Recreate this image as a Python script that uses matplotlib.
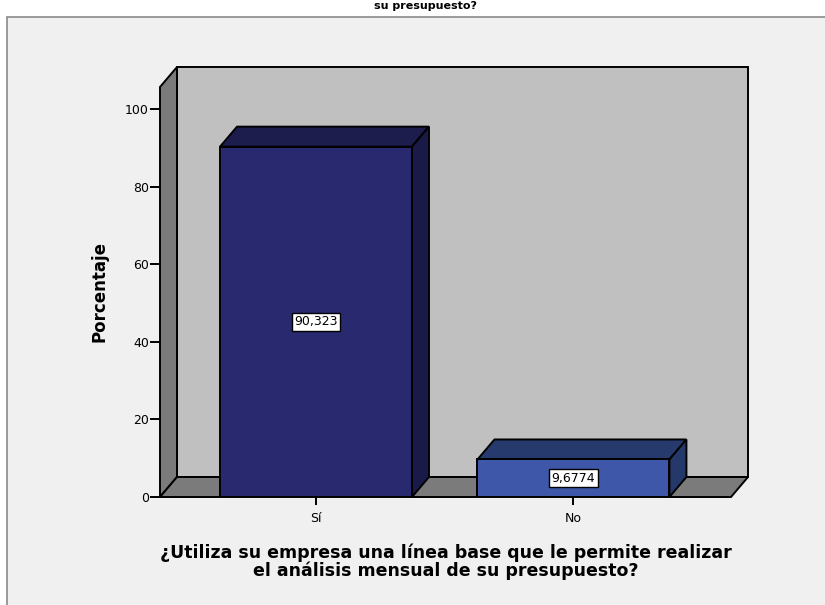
import matplotlib
matplotlib.use("Agg")
import matplotlib.pyplot as plt
from matplotlib.patches import Polygon, Rectangle

# data
categories = ["Sí", "No"]
percentages = [90.323, 9.6774]
value_labels = ["90,323", "9,6774"]
y_ticks = [0, 20, 40, 60, 80, 100]

front_colors = ["#29296f", "#3e57a8"]
top_colors = ["#1c1c4d", "#263a6d"]
side_colors = ["#1a1a48", "#24386a"]

W, H = 825, 605
fig = plt.figure(figsize=(W / 100, H / 100), dpi=100)
fig.patch.set_facecolor("white")

# outer frame
frame = Rectangle((7 / W, -0.01), 1.0, 1 - 17 / H + 0.01,
                  transform=fig.transFigure, facecolor="#f0f0f0",
                  edgecolor="#8a8a8a", linewidth=1.2, zorder=-10)
fig.patches.append(frame)

# title line at top (cut in the reference)
fig.text(425 / W, 1 - 1 / H, "su presupuesto?", ha="center", va="top",
         fontsize=8, fontweight="bold", family="DejaVu Sans")

# axes: front plane from x=160..731 px, y=87..497 px
left, right, bottom, top = 160, 731, 497, 87
ax = fig.add_axes([left / W, 1 - bottom / H, (right - left) / W, (bottom - top) / H])
ax.set_facecolor("none")
ax.set_zorder(1)
x_min, x_max = -0.606, 1.612
y_top = 105.7
ax.set_xlim(x_min, x_max)
ax.set_ylim(0, y_top)
for s in ax.spines.values():
    s.set_visible(False)

# depth offset in data units
dx = 17 / 257.5
dy = 20 / 3.88

kw = dict(edgecolor="black", linewidth=1.4, clip_on=False, joinstyle="miter")
# back wall
ax.add_patch(Polygon([(x_min + dx, dy), (x_max + dx, dy), (x_max + dx, y_top + dy),
                      (x_min + dx, y_top + dy)], facecolor="#c0c0c0", zorder=1, **kw))
# left wall
ax.add_patch(Polygon([(x_min, 0), (x_min + dx, dy), (x_min + dx, y_top + dy),
                      (x_min, y_top)], facecolor="#7b7b7b", zorder=1, **kw))
# floor
ax.add_patch(Polygon([(x_min, 0), (x_max, 0), (x_max + dx, dy), (x_min + dx, dy)],
                     facecolor="#7b7b7b", zorder=1, **kw))

bar_w = 192 / 257.5
xs = range(len(categories))
ax.bar(xs, percentages, width=bar_w, color=front_colors, edgecolor="black",
       linewidth=1.4, zorder=3)
for i, v in zip(xs, percentages):
    x0, x1 = i - bar_w / 2, i + bar_w / 2
    ax.add_patch(Polygon([(x0, v), (x1, v), (x1 + dx, v + dy), (x0 + dx, v + dy)],
                         facecolor=top_colors[i], zorder=2, **kw))
    ax.add_patch(Polygon([(x1, 0), (x1 + dx, dy), (x1 + dx, v + dy), (x1, v)],
                         facecolor=side_colors[i], zorder=2, **kw))
    ax.text(i, v / 2, value_labels[i], ha="center", va="center", fontsize=9,
            zorder=5, bbox=dict(boxstyle="square,pad=0.2", facecolor="white",
                                edgecolor="black", linewidth=1))

ax.set_xticks(list(xs))
ax.set_xticklabels(categories, fontsize=9)
ax.set_yticks(y_ticks)
ax.set_yticklabels([str(t) for t in y_ticks], fontsize=9)
ax.tick_params(axis="y", length=7, width=1.4, pad=1)
ax.tick_params(axis="x", length=6, width=1.4, pad=5)

ax.set_ylabel("Porcentaje", fontsize=12, fontweight="bold", labelpad=12)
ax.set_xlabel("¿Utiliza su empresa una línea base que le permite realizar\n"
              "el análisis mensual de su presupuesto?",
              fontsize=12.5, fontweight="bold", labelpad=13, linespacing=0.95)

fig.savefig("out.png", dpi=100)
